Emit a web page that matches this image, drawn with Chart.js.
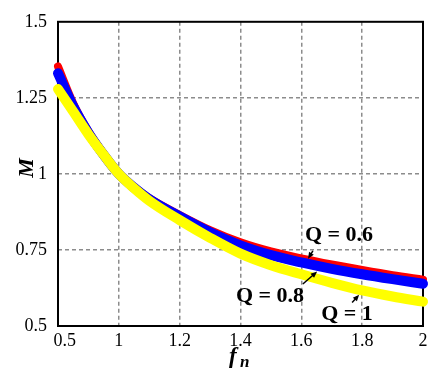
<!DOCTYPE html>
<html>
<head>
<meta charset="utf-8">
<script src="https://cdn.jsdelivr.net/npm/chart.js@4.4.1/dist/chart.umd.min.js"></script>
<style>
  html, body { margin: 0; padding: 0; background: #fff; }
  #wrap { width: 441px; height: 374px; position: relative; }
</style>
</head>
<body>
<div id="wrap"><canvas id="gain"></canvas></div>
<script>
// normalised frequency fn and gain M
var fn   = [0.8, 0.85, 0.9, 0.95, 1.0, 1.05, 1.1, 1.2, 1.3, 1.4, 1.5, 1.6, 1.7, 1.8, 1.9, 2.0];
var mQ06 = [1.353, 1.232, 1.14, 1.066, 1.0, 0.957, 0.92, 0.865, 0.815, 0.775, 0.745, 0.722, 0.702, 0.684, 0.667, 0.652];
var mQ08 = [1.331, 1.222, 1.135, 1.063, 1.0, 0.955, 0.917, 0.86, 0.808, 0.765, 0.733, 0.709, 0.688, 0.67, 0.654, 0.639];
var mQ1  = [1.279, 1.205, 1.13, 1.063, 1.0, 0.953, 0.912, 0.848, 0.79, 0.738, 0.70, 0.67, 0.642, 0.617, 0.597, 0.58];
var xTickLabels = ['\u00a0\u00a0\u00a00.5', '1', '1.2', '1.4', '1.6', '1.8', '2'];
var yTickLabels = ['0.5', '0.75', '1', '1.25', '1.5'];

// labels with arrows: text position, arrow tail, arrow head (data units)
var notes = [
  { text: 'Q = 0.6', at: [1.724, 0.798], from: [1.638, 0.747], to: [1.622, 0.721] },
  { text: 'Q = 0.8', at: [1.497, 0.596], from: [1.605, 0.638], to: [1.652, 0.679] },
  { text: 'Q = 1',   at: [1.750, 0.538], from: [1.767, 0.577], to: [1.790, 0.603] }
];

var serif = '"Liberation Serif", "Times New Roman", serif';

function pts(ys) {
  return fn.map(function (x, i) { return { x: x, y: ys[i] }; });
}

var extras = {
  id: 'extras',
  beforeDatasetsDraw: function (chart) {
    var c = chart.ctx, a = chart.chartArea;
    c.save();
    c.strokeStyle = '#000';
    c.lineWidth = 2;
    c.strokeRect(a.left, a.top, a.right - a.left, a.bottom - a.top);
    c.restore();
  },
  afterDraw: function (chart) {
    var c = chart.ctx, xs = chart.scales.x, ys = chart.scales.y;
    c.save();
    // annotations
    c.fillStyle = '#000';
    c.strokeStyle = '#000';
    c.font = 'bold 22px ' + serif;
    c.textAlign = 'center';
    c.textBaseline = 'middle';
    notes.forEach(function (n) {
      c.fillText(n.text, xs.getPixelForValue(n.at[0]), ys.getPixelForValue(n.at[1]));
      var x0 = xs.getPixelForValue(n.from[0]), y0 = ys.getPixelForValue(n.from[1]);
      var x1 = xs.getPixelForValue(n.to[0]), y1 = ys.getPixelForValue(n.to[1]);
      var ang = Math.atan2(y1 - y0, x1 - x0);
      c.lineWidth = 1.5;
      c.beginPath();
      c.moveTo(x0, y0);
      c.lineTo(x1 - 3 * Math.cos(ang), y1 - 3 * Math.sin(ang));
      c.stroke();
      c.beginPath();
      c.moveTo(x1, y1);
      c.lineTo(x1 - 7 * Math.cos(ang - 0.4), y1 - 7 * Math.sin(ang - 0.4));
      c.lineTo(x1 - 7 * Math.cos(ang + 0.4), y1 - 7 * Math.sin(ang + 0.4));
      c.closePath();
      c.fill();
    });
    // axis titles
    c.textAlign = 'left';
    c.textBaseline = 'alphabetic';
    c.font = 'italic bold 23px ' + serif;
    c.fillText('f', 229, 363);
    c.font = 'italic bold 17px ' + serif;
    c.fillText('n', 240, 367);
    c.translate(33, 168);
    c.rotate(-Math.PI / 2);
    c.textAlign = 'center';
    c.font = 'italic bold 22px ' + serif;
    c.fillText('M', 0, 0);
    c.restore();
  }
};

function gridColor(ctx) {
  if (!ctx.tick) return 'rgba(0,0,0,0)';
  if (ctx.index === 0 || ctx.index === ctx.scale.ticks.length - 1) return 'rgba(0,0,0,0)';
  return '#8c8c8c';
}

new Chart(document.getElementById('gain'), {
  type: 'line',
  data: {
    datasets: [
      { label: 'Q = 0.6', data: pts(mQ06), borderColor: '#ff0000', borderWidth: 8, order: 3 },
      { label: 'Q = 0.8', data: pts(mQ08), borderColor: '#0000ff', borderWidth: 10, order: 2 },
      { label: 'Q = 1',   data: pts(mQ1),  borderColor: '#ffff00', borderWidth: 10, order: 1 }
    ]
  },
  options: {
    responsive: true,
    maintainAspectRatio: false,
    animation: false,
    layout: { padding: { left: 0, right: 18, top: 14, bottom: 0 } },
    elements: {
      point: { radius: 0 },
      line: { tension: 0.4, cubicInterpolationMode: 'monotone', borderCapStyle: 'round', fill: false }
    },
    datasets: { line: { clip: 8 } },
    plugins: { legend: { display: false }, tooltip: { enabled: false } },
    scales: {
      x: {
        type: 'linear',
        min: 0.8, max: 2,
        afterFit: function (s) { s.height = 48; },
        border: { display: false, dash: [4, 3] },
        grid: { color: gridColor, lineWidth: 1.5, drawTicks: false },
        ticks: {
          stepSize: 0.2, autoSkip: false, maxRotation: 0, padding: 4,
          color: '#000', font: { family: serif, size: 18 },
          callback: function (v, i) { return xTickLabels[i]; }
        }
      },
      y: {
        min: 0.5, max: 1.5,
        afterFit: function (s) { s.width = 58; },
        border: { display: false, dash: [4, 3] },
        grid: { color: gridColor, lineWidth: 1.5, drawTicks: false },
        ticks: {
          stepSize: 0.25, padding: 11,
          color: '#000', font: { family: serif, size: 18 },
          callback: function (v, i) { return yTickLabels[i]; }
        }
      }
    }
  },
  plugins: [extras]
});
</script>
</body>
</html>
